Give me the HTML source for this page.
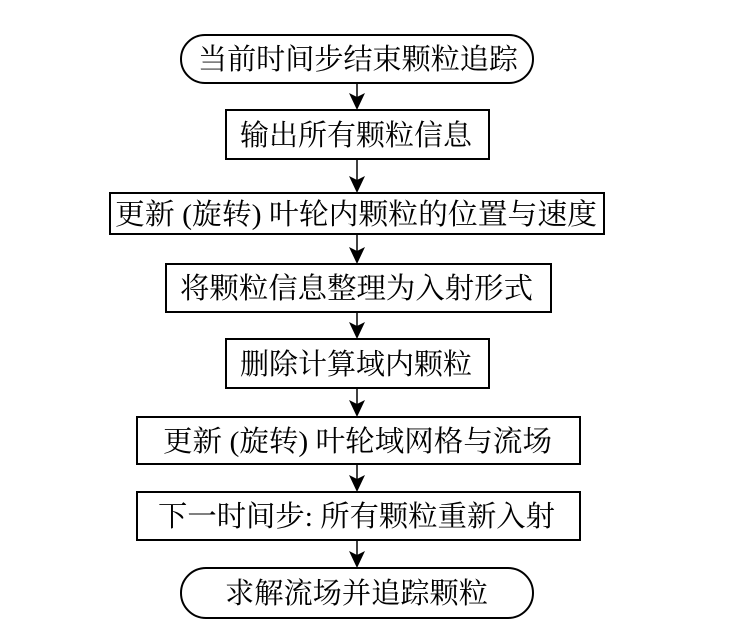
<!DOCTYPE html>
<html><head><meta charset="utf-8"><style>
html,body{margin:0;padding:0;background:#fff;}
svg{display:block;}
text{font-family:"Liberation Serif","Noto Serif CJK SC","Noto Sans CJK SC",serif;font-size:29px;fill:#000;}
</style></head><body>
<svg width="744" height="639" viewBox="0 0 744 639" xmlns="http://www.w3.org/2000/svg">
<g fill="none" stroke="#000" stroke-width="2">
<rect x="181" y="35" width="352" height="48" rx="24"/>
<rect x="226" y="110" width="263" height="49"/>
<rect x="110" y="193" width="494" height="41"/>
<rect x="166" y="264" width="385" height="48"/>
<rect x="226" y="339" width="263" height="49"/>
<rect x="137" y="417" width="443" height="47"/>
<rect x="137" y="492" width="443" height="48"/>
<rect x="181" y="568" width="352" height="50" rx="25"/>
</g>
<g stroke="#000" stroke-width="1.5">
<line x1="357" y1="83" x2="357" y2="100"/>
<line x1="357" y1="159" x2="357" y2="184"/>
<line x1="357" y1="234" x2="357" y2="255"/>
<line x1="357" y1="312" x2="357" y2="330"/>
<line x1="357" y1="388" x2="357" y2="408"/>
<line x1="357" y1="464" x2="357" y2="483"/>
<line x1="357" y1="540" x2="357" y2="559"/>
</g>
<g fill="#000">
<path d="M349,93 L357,97 L365,93 L357,110 Z"/>
<path d="M349,176 L357,180 L365,176 L357,193 Z"/>
<path d="M349,247 L357,251 L365,247 L357,264 Z"/>
<path d="M349,322 L357,326 L365,322 L357,339 Z"/>
<path d="M349,400 L357,404 L365,400 L357,417 Z"/>
<path d="M349,475 L357,479 L365,475 L357,492 Z"/>
<path d="M349,551 L357,555 L365,551 L357,568 Z"/>
</g>
<text x="198" y="69" textLength="320" lengthAdjust="spacingAndGlyphs">当前时间步结束颗粒追踪</text>
<text x="240" y="145" textLength="232" lengthAdjust="spacingAndGlyphs">输出所有颗粒信息</text>
<text x="115" y="224" textLength="482" lengthAdjust="spacingAndGlyphs">更新 (旋转) 叶轮内颗粒的位置与速度</text>
<text x="180" y="298" textLength="353" lengthAdjust="spacingAndGlyphs">将颗粒信息整理为入射形式</text>
<text x="240" y="374" textLength="232" lengthAdjust="spacingAndGlyphs">删除计算域内颗粒</text>
<text x="163" y="451" textLength="389" lengthAdjust="spacingAndGlyphs">更新 (旋转) 叶轮域网格与流场</text>
<text x="158" y="526" textLength="397" lengthAdjust="spacingAndGlyphs">下一时间步: 所有颗粒重新入射</text>
<text x="225" y="603" textLength="263" lengthAdjust="spacingAndGlyphs">求解流场并追踪颗粒</text>
</svg>
</body></html>
